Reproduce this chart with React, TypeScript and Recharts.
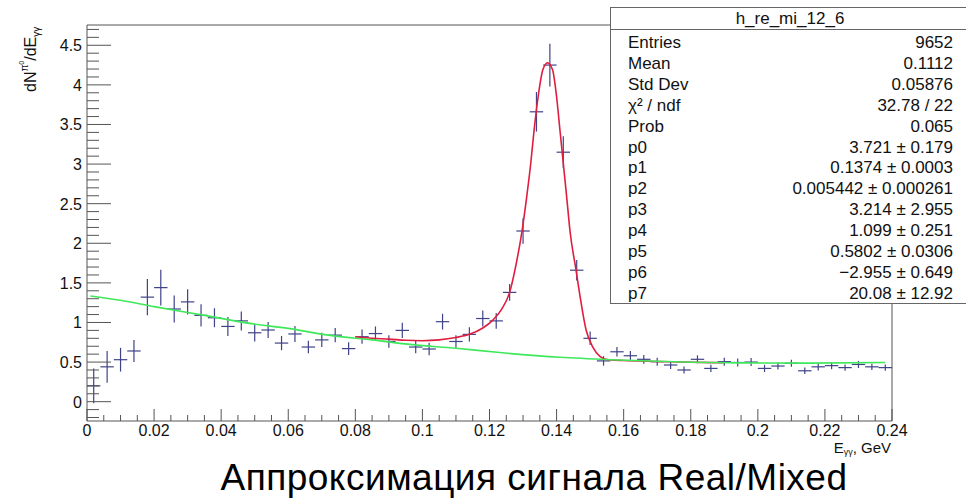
import { ComposedChart, XAxis, YAxis, Scatter, Line, ErrorBar, ReferenceArea } from 'recharts';

// Histogram h_re_mi_12_6: Real/Mixed ratio in bins of E_γγ
const BIN_CENTERS = [
  0.002, 0.006, 0.01, 0.014, 0.018, 0.022, 0.026, 0.03, 0.034, 0.038,
  0.042, 0.046, 0.05, 0.054, 0.058, 0.062, 0.066, 0.07, 0.074, 0.078,
  0.082, 0.086, 0.09, 0.094, 0.098, 0.102, 0.106, 0.11, 0.114, 0.118,
  0.122, 0.126, 0.13, 0.134, 0.138, 0.142, 0.146, 0.15, 0.154, 0.158,
  0.162, 0.166, 0.17, 0.174, 0.178, 0.182, 0.186, 0.19, 0.194, 0.198,
  0.202, 0.206, 0.21, 0.214, 0.218, 0.222, 0.226, 0.23, 0.234, 0.238,
];
const COUNTS = [
  0.2, 0.44, 0.53, 0.64, 1.32, 1.44, 1.17, 1.26, 1.09, 1.06,
  0.95, 1.02, 0.87, 0.905, 0.74, 0.855, 0.69, 0.78, 0.84, 0.67,
  0.82, 0.86, 0.76, 0.9, 0.69, 0.665, 1.01, 0.76, 0.85, 1.05,
  1.02, 1.38, 2.155, 3.66, 4.25, 3.15, 1.66, 0.8, 0.515, 0.63,
  0.58, 0.535, 0.505, 0.463, 0.4, 0.535, 0.42, 0.505, 0.495, 0.5,
  0.42, 0.45, 0.485, 0.39, 0.44, 0.455, 0.43, 0.47, 0.44, 0.43,
];
const COUNT_ERRORS = [
  0.22, 0.2, 0.15, 0.14, 0.23, 0.225, 0.17, 0.16, 0.14, 0.12,
  0.12, 0.12, 0.11, 0.1, 0.09, 0.1, 0.08, 0.09, 0.09, 0.08,
  0.09, 0.09, 0.08, 0.095, 0.08, 0.08, 0.1, 0.08, 0.09, 0.1,
  0.1, 0.105, 0.16, 0.25, 0.27, 0.2, 0.13, 0.085, 0.06, 0.06,
  0.06, 0.055, 0.05, 0.05, 0.045, 0.05, 0.045, 0.05, 0.05, 0.05,
  0.045, 0.045, 0.045, 0.04, 0.045, 0.045, 0.04, 0.045, 0.04, 0.04,
];
const BIN_HALF_WIDTH = 0.002;

// signal + background fit (red)
const SIGNAL_FIT_X = [
  0.08, 0.085, 0.09, 0.095, 0.1, 0.105, 0.11, 0.114, 0.118, 0.121,
  0.1235, 0.126, 0.128, 0.1297, 0.1311, 0.1323, 0.1333, 0.1345, 0.1359, 0.1373,
  0.1388, 0.14, 0.141, 0.142, 0.143, 0.144, 0.1458, 0.147, 0.1488, 0.1508,
  0.153, 0.1554, 0.16, 0.17, 0.18, 0.19,
];
const SIGNAL_FIT_Y = [
  0.82, 0.8, 0.79, 0.775, 0.77, 0.78, 0.81, 0.85, 0.93, 1.03,
  1.16, 1.38, 1.75, 2.155, 2.59, 3.01, 3.43, 3.85, 4.19, 4.28,
  4.19, 3.85, 3.43, 3.01, 2.59, 2.155, 1.66, 1.33, 0.905, 0.69,
  0.57, 0.53, 0.52, 0.508, 0.498, 0.492,
];

// background-only component (green)
const BACKGROUND_FIT_X = [
  0.001, 0.01, 0.02, 0.035, 0.049, 0.06, 0.072, 0.085, 0.097, 0.11,
  0.123, 0.141, 0.156, 0.175, 0.195, 0.215, 0.238,
];
const BACKGROUND_FIT_Y = [
  1.335, 1.28, 1.2, 1.09, 0.985, 0.925, 0.84, 0.78, 0.72, 0.675,
  0.62, 0.56, 0.53, 0.505, 0.49, 0.487, 0.495,
];

const X_MAJOR_TICKS = [0, 0.02, 0.04, 0.06, 0.08, 0.1, 0.12, 0.14, 0.16, 0.18, 0.2, 0.22, 0.24];
const Y_MAJOR_TICKS = [0, 0.5, 1, 1.5, 2, 2.5, 3, 3.5, 4, 4.5];
const X_DOMAIN: [number, number] = [0, 0.24];
const Y_DOMAIN: [number, number] = [-0.244, 4.756];

const STAT_LABELS = ['Entries', 'Mean', 'Std Dev', 'χ² / ndf', 'Prob', 'p0', 'p1', 'p2', 'p3', 'p4', 'p5', 'p6', 'p7'];
const STAT_VALUES = [
  '9652', '0.1112', '0.05876', '32.78 / 22', '0.065',
  '3.721 ± 0.179', '0.1374 ± 0.0003', '0.005442 ± 0.000261', '3.214 ± 2.955',
  '1.099 ± 0.251', '0.5802 ± 0.0306', '−2.955 ± 0.649', '20.08 ± 12.92',
];

const FONT = '"Liberation Sans", Arial, Helvetica, sans-serif';
const AXIS_COLOR = '#555';
const POINT_COLOR = '#3f4388';

const round = (v: number) => Math.round(v * 10000) / 10000;

const minorTicks = (lo: number, hi: number, step: number) => {
  const out: number[] = [];
  for (let v = Math.ceil(lo / step - 1e-9) * step; v <= hi + 1e-9; v += step) out.push(round(v));
  return out;
};

const isMajor = (majors: number[], v: number) => majors.some((m) => Math.abs(m - v) < 1e-6);

const points = BIN_CENTERS.map((x, i) => ({ x, y: COUNTS[i], ex: BIN_HALF_WIDTH, ey: COUNT_ERRORS[i] }));
const signalFit = SIGNAL_FIT_X.map((x, i) => ({ x, y: SIGNAL_FIT_Y[i] }));
const backgroundFit = BACKGROUND_FIT_X.map((x, i) => ({ x, y: BACKGROUND_FIT_Y[i] }));

const XTick = (props: any) => {
  const { x, y, payload } = props;
  const major = isMajor(X_MAJOR_TICKS, payload.value);
  return (
    <g>
      <line x1={x} x2={x} y1={y} y2={y - (major ? 12 : 6)} stroke={AXIS_COLOR} />
      {major && (
        <text x={x} y={y + 15} textAnchor="middle" fontSize={16} fontFamily={FONT} fill="#111">
          {String(payload.value)}
        </text>
      )}
    </g>
  );
};

const YTick = (props: any) => {
  const { x, y, payload } = props;
  const major = isMajor(Y_MAJOR_TICKS, payload.value);
  return (
    <g>
      <line x1={x} x2={x + (major ? 24 : 12)} y1={y} y2={y} stroke={AXIS_COLOR} />
      {major && (
        <text x={x - 5} y={y + 6} textAnchor="end" fontSize={16} fontFamily={FONT} fill="#111">
          {String(payload.value)}
        </text>
      )}
    </g>
  );
};

const StatsBox = () => (
  <g fontFamily={FONT} fill="#111">
    <rect x={610.5} y={7.5} width={370} height={296} fill="#fff" stroke="#666" />
    <line x1={610.5} x2={980} y1={29.5} y2={29.5} stroke="#666" />
    <text x={790} y={24} textAnchor="middle" fontSize={17}>h_re_mi_12_6</text>
    {STAT_LABELS.map((label, i) => (
      <g key={label}>
        <text x={628} y={48 + i * 20.9} fontSize={17}>{label}</text>
        <text x={953} y={48 + i * 20.9} fontSize={17} textAnchor="end">{STAT_VALUES[i]}</text>
      </g>
    ))}
  </g>
);

export default function App() {
  return (
    <div style={{ position: 'absolute', left: 0, top: 0, width: 966, height: 498, background: '#fff' }}>
      <ComposedChart width={966} height={498} margin={{ top: 25, right: 74, bottom: 0, left: 0 }}>
        <XAxis
          type="number"
          dataKey="x"
          domain={X_DOMAIN}
          allowDataOverflow
          ticks={minorTicks(0, 0.24, 0.005)}
          interval={0}
          tick={<XTick />}
          tickSize={0}
          tickMargin={0}
          tickLine={false}
          axisLine={false}
          height={77}
        />
        <YAxis
          type="number"
          domain={Y_DOMAIN}
          allowDataOverflow
          ticks={minorTicks(Y_DOMAIN[0], Y_DOMAIN[1], 0.1)}
          interval={0}
          tick={<YTick />}
          tickSize={0}
          tickMargin={0}
          tickLine={false}
          axisLine={false}
          width={87}
        />
        <ReferenceArea
          x1={X_DOMAIN[0]}
          x2={X_DOMAIN[1]}
          y1={Y_DOMAIN[0]}
          y2={Y_DOMAIN[1]}
          fill="none"
          stroke={AXIS_COLOR}
          fillOpacity={0}
        />
        <Scatter data={points} dataKey="y" shape={() => <g />} isAnimationActive={false}>
          <ErrorBar dataKey="ex" direction="x" width={0} stroke={POINT_COLOR} strokeWidth={1.2} isAnimationActive={false} />
          <ErrorBar dataKey="ey" direction="y" width={0} stroke={POINT_COLOR} strokeWidth={1.2} isAnimationActive={false} />
        </Scatter>
        <Line
          data={signalFit}
          dataKey="y"
          type="monotone"
          dot={false}
          stroke="#e11d3f"
          strokeWidth={1.6}
          isAnimationActive={false}
        />
        <Line
          data={backgroundFit}
          dataKey="y"
          type="monotone"
          dot={false}
          stroke="#3ee85a"
          strokeWidth={1.6}
          isAnimationActive={false}
        />
      </ComposedChart>
      <svg
        width={966}
        height={498}
        style={{ position: 'absolute', left: 0, top: 0, pointerEvents: 'none' }}
      >
        <StatsBox />
        <text transform="translate(36,92) rotate(-90)" fontSize={16} fontFamily={FONT} fill="#111">
          dN
          <tspan fontSize={10} dy={-8}>π</tspan>
          <tspan fontSize={7} dy={-4}>0</tspan>
          <tspan dy={12}>/dE</tspan>
          <tspan fontSize={10} dy={4}>γγ</tspan>
        </text>
        <text x={891} y={453} textAnchor="end" fontSize={15} fontFamily={FONT} fill="#111">
          E<tspan fontSize={9} dy={1.5}>γγ</tspan>
          <tspan dy={-1.5}>, GeV</tspan>
        </text>
        <text
          x={534}
          y={490}
          textAnchor="middle"
          fontSize={37}
          letterSpacing={0.5}
          fontFamily={FONT}
          fill="#000"
        >
          Аппроксимация сигнала Real/Mixed
        </text>
      </svg>
    </div>
  );
}
